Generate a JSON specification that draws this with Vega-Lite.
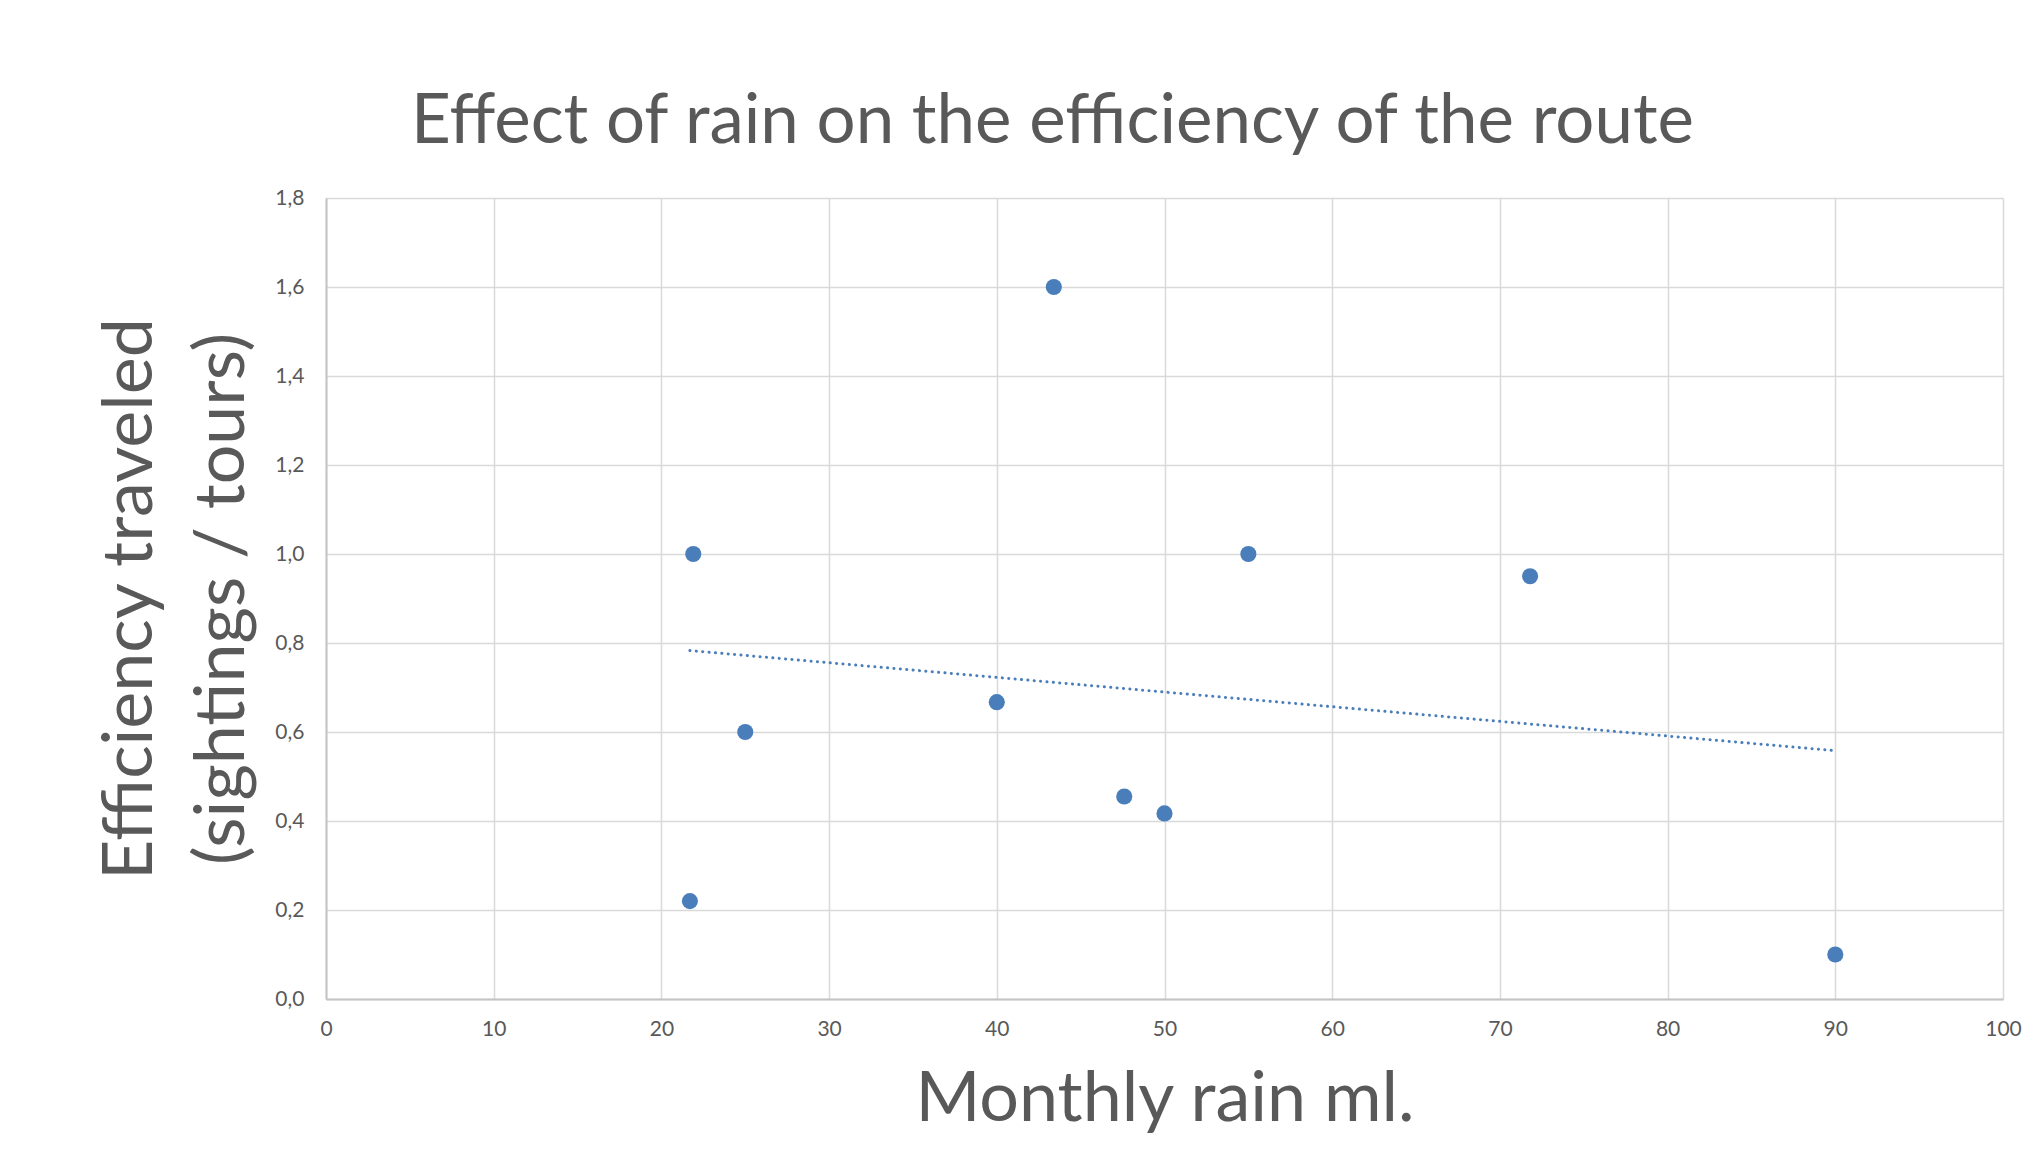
{
  "$schema": "https://vega.github.io/schema/vega-lite/v6.json",
  "width": 1677,
  "height": 801,
  "autosize": {"type": "none"},
  "padding": {"left": 326, "top": 198, "right": 24, "bottom": 163},
  "background": "white",
  "config": {
    "locale": {"number": {"decimal": ",", "thousands": ".", "grouping": [3], "currency": ["", " €"]}},
    "view": {"stroke": null},
    "font": "Lato"
  },
  "title": {
    "text": "Effect of rain on the efficiency of the route",
    "font": "Lato",
    "fontSize": 69,
    "fontWeight": "normal",
    "color": "#595959",
    "anchor": "middle",
    "frame": "group",
    "dx": -112,
    "offset": 30
  },
  "datasets": {
    "points": [
      {"rain": 21.9, "efficiency": 1.0},
      {"rain": 21.7, "efficiency": 0.22},
      {"rain": 25.0, "efficiency": 0.6},
      {"rain": 40.0, "efficiency": 0.667},
      {"rain": 43.4, "efficiency": 1.6},
      {"rain": 47.6, "efficiency": 0.455},
      {"rain": 50.0, "efficiency": 0.417},
      {"rain": 55.0, "efficiency": 1.0},
      {"rain": 71.8, "efficiency": 0.95},
      {"rain": 90.0, "efficiency": 0.1}
    ],
    "trend": [
      {"rain": 21.7, "efficiency": 0.783},
      {"rain": 90.0, "efficiency": 0.558}
    ]
  },
  "encoding": {
    "x": {
      "field": "rain",
      "type": "quantitative",
      "scale": {"domain": [0, 100], "nice": false, "zero": true},
      "axis": {
        "values": [0, 10, 20, 30, 40, 50, 60, 70, 80, 90, 100],
        "format": "d",
        "grid": true,
        "gridColor": "#d9d9d9",
        "gridWidth": 1.5,
        "domainColor": "#c4c4c4",
        "domainWidth": 2,
        "ticks": false,
        "labelFont": "Lato",
        "labelFontSize": 21,
        "labelColor": "#595959",
        "labelPadding": 19,
        "labelFlush": false,
        "title": "Monthly rain ml.",
        "titleFont": "Lato",
        "titleFontSize": 70,
        "titleFontWeight": "normal",
        "titleColor": "#595959",
        "titlePadding": 26
      }
    },
    "y": {
      "field": "efficiency",
      "type": "quantitative",
      "scale": {"domain": [0, 1.8], "nice": false, "zero": true},
      "axis": {
        "values": [0, 0.2, 0.4, 0.6, 0.8, 1.0, 1.2, 1.4, 1.6, 1.8],
        "format": ".1f",
        "grid": true,
        "gridColor": "#d9d9d9",
        "gridWidth": 1.5,
        "domainColor": "#c4c4c4",
        "domainWidth": 2,
        "ticks": false,
        "labelFont": "Lato",
        "labelFontSize": 21,
        "labelColor": "#595959",
        "labelPadding": 22,
        "labelFlush": false,
        "title": ["Efficiency traveled", "(sightings / tours)"],
        "titleFont": "Lato",
        "titleFontSize": 70,
        "titleFontWeight": "normal",
        "titleColor": "#595959",
        "titleLineHeight": 92,
        "titlePadding": 16
      }
    }
  },
  "layer": [
    {
      "data": {"name": "points"},
      "mark": {"type": "circle", "size": 260, "color": "#4a7ebb", "opacity": 1}
    },
    {
      "data": {"name": "trend"},
      "mark": {"type": "line", "color": "#4a7ebb", "strokeWidth": 3, "strokeCap": "round", "strokeDash": [0.1, 6.3]}
    }
  ]
}
